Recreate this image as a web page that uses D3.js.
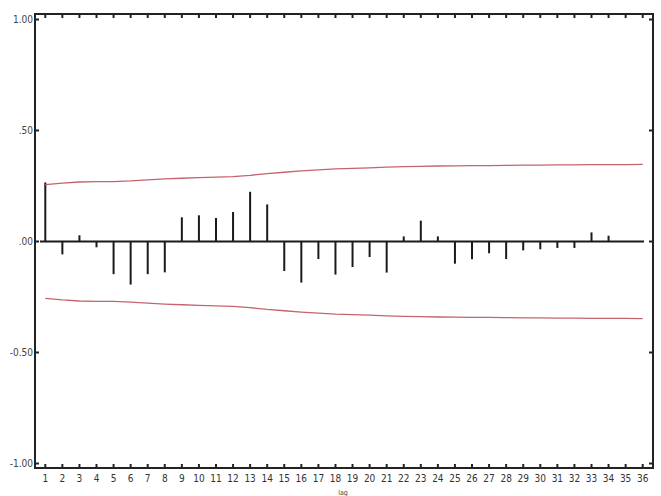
<!DOCTYPE html>
<html>
<head>
<meta charset="utf-8">
<script src="https://cdn.jsdelivr.net/npm/d3@7"></script>
<style>
  html, body { margin: 0; padding: 0; background: #fff; }
  svg { display: block; }
  text { font-family: "Liberation Sans Narrow", "DejaVu Sans Condensed", "Roboto Condensed", sans-serif; }
</style>
</head>
<body>
<svg id="chart" width="661" height="496"></svg>
<script>
const lags = d3.range(1, 37);
const acf = [0.266, -0.058, 0.028, -0.026, -0.147, -0.194, -0.147, -0.139, 0.109, 0.118,
             0.106, 0.133, 0.224, 0.167, -0.133, -0.185, -0.079, -0.149, -0.115, -0.070,
             -0.140, 0.023, 0.094, 0.023, -0.100, -0.080, -0.053, -0.079, -0.040, -0.035,
             -0.029, -0.029, 0.041, 0.026, 0, 0];
const bound = [0.256, 0.263, 0.268, 0.270, 0.270, 0.273, 0.278, 0.282, 0.285, 0.288,
               0.290, 0.292, 0.298, 0.306, 0.312, 0.318, 0.323, 0.327, 0.329, 0.332,
               0.335, 0.337, 0.338, 0.340, 0.341, 0.342, 0.342, 0.343, 0.344, 0.344,
               0.345, 0.345, 0.346, 0.346, 0.346, 0.347];
const yTicks = [1, 0.5, 0, -0.5, -1];
const yTickLabels = ["1.00", ".50", ".00", "-0.50", "-1.00"];
const xLabel = "lag";

const svg = d3.select("#chart");
const frame = { left: 35, right: 653, top: 14, bottom: 468 };
const x = d3.scaleLinear().domain([1, 36]).range([45.3, 642.7]);
const y = d3.scaleLinear().domain([-1, 1]).range([463.5, 19.5]);

// zero line
svg.append("line")
  .attr("x1", 40).attr("x2", 644)
  .attr("y1", y(0)).attr("y2", y(0))
  .attr("stroke", "#1a1a1a").attr("stroke-width", 2);

// stems
svg.append("g").selectAll("line")
  .data(lags.map((l, i) => ({ l, v: acf[i] })).filter(d => d.v !== 0))
  .join("line")
  .attr("x1", d => x(d.l)).attr("x2", d => x(d.l))
  .attr("y1", y(0)).attr("y2", d => y(d.v))
  .attr("stroke", "#1a1a1a").attr("stroke-width", 2);

// confidence bounds
const line = d3.line().x(d => x(d[0])).y(d => y(d[1]));
svg.append("path")
  .datum(lags.map((l, i) => [l, bound[i]]))
  .attr("d", line).attr("fill", "none")
  .attr("stroke", "#c4646c").attr("stroke-width", 1.3);
svg.append("path")
  .datum(lags.map((l, i) => [l, -bound[i]]))
  .attr("d", line).attr("fill", "none")
  .attr("stroke", "#c4646c").attr("stroke-width", 1.3);

// frame
svg.append("rect")
  .attr("x", frame.left).attr("y", frame.top)
  .attr("width", frame.right - frame.left).attr("height", frame.bottom - frame.top)
  .attr("fill", "none").attr("stroke", "#222").attr("stroke-width", 2);

// x ticks top and bottom
const xt = svg.append("g");
lags.forEach(l => {
  xt.append("line").attr("x1", x(l)).attr("x2", x(l))
    .attr("y1", frame.top).attr("y2", frame.top + 4)
    .attr("stroke", "#222").attr("stroke-width", 2);
  xt.append("line").attr("x1", x(l)).attr("x2", x(l))
    .attr("y1", frame.bottom).attr("y2", frame.bottom - 4)
    .attr("stroke", "#222").attr("stroke-width", 2);
  xt.append("text").attr("x", x(l)).attr("y", 481.5)
    .attr("text-anchor", "middle").attr("font-size", 10).attr("fill", "#333")
    .text(String(l));
});

// y ticks left and right
const yt = svg.append("g");
yTicks.forEach((t, i) => {
  yt.append("line").attr("x1", frame.left).attr("x2", frame.left + 4)
    .attr("y1", y(t)).attr("y2", y(t)).attr("stroke", "#222").attr("stroke-width", 2);
  yt.append("line").attr("x1", frame.right).attr("x2", frame.right - 4)
    .attr("y1", y(t)).attr("y2", y(t)).attr("stroke", "#222").attr("stroke-width", 2);
  yt.append("text").attr("x", 33).attr("y", y(t) + 3.5)
    .attr("text-anchor", "end").attr("font-size", 10).attr("fill", "#444")
    .text(yTickLabels[i]);
});

// x axis title
svg.append("text").attr("x", 343).attr("y", 495)
  .attr("text-anchor", "middle").attr("font-size", 7).attr("fill", "#444")
  .text(xLabel);
</script>
</body>
</html>
